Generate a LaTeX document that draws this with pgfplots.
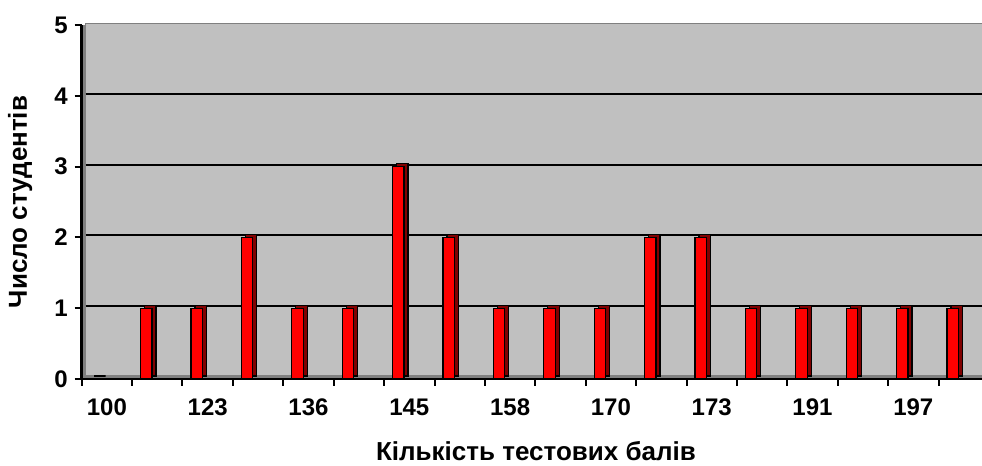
\documentclass[border=0pt]{standalone}
\usepackage{fontspec}
\setmainfont{Liberation Sans}
\usepackage{pgfplots}
\pgfplotsset{compat=1.18}
\definecolor{wall}{HTML}{C0C0C0}
\definecolor{wallside}{HTML}{808080}
\definecolor{barred}{HTML}{FF0000}
\definecolor{bardark}{HTML}{800000}
\begin{document}
\begin{tikzpicture}
\begin{axis}[
  at={(0,0)}, anchor=south west,
  scale only axis,
  width=450.15pt, height=177pt,
  xmin=-0.5, xmax=17.363,
  ymin=0, ymax=5,
  clip=false,
  axis lines=left,
  axis line style={-, line width=1.2pt, black},
  tick align=outside,
  tick style={line width=1pt, black},
  major tick length=3.5pt,
  xtick={-0.5,0.5,...,16.5},
  xticklabels={},
  extra x ticks={0,2,4,6,8,10,12,14,16},
  extra x tick labels={100,123,136,145,158,170,173,191,197},
  extra x tick style={major tick length=0pt, tick style={draw=none}},
  ytick={0,1,2,3,4,5},
  yticklabels={0,1,2,3,4,5},
  /pgf/number format/assume math mode=true,
  ticklabel style={font=\bfseries\fontsize{12}{14}\selectfont},
  xticklabel style={yshift=-6.5pt},
  xlabel={Кількість тестових балів},
  ylabel={Число студентів},
  label style={font=\bfseries\fontsize{13}{15}\selectfont},
  xlabel style={at={(axis description cs:0.5046,-0.229)}, anchor=base},
  ylabel style={at={(axis description cs:-0.0685,0.5)}, anchor=center},
  axis background/.style={fill=wallside},
]
\fill[wall, draw=wallside, line width=0.4pt] ([shift={(2pt,2pt)}]axis cs:-0.5,0) rectangle ([shift={(3pt,1pt)}]axis cs:17.363,5);
\draw[black, line width=1pt] ([shift={(2pt,1pt)}]axis cs:-0.5,1) -- ([shift={(3pt,1pt)}]axis cs:17.363,1);
\draw[black, line width=1pt] ([shift={(2pt,1pt)}]axis cs:-0.5,2) -- ([shift={(3pt,1pt)}]axis cs:17.363,2);
\draw[black, line width=1pt] ([shift={(2pt,1pt)}]axis cs:-0.5,3) -- ([shift={(3pt,1pt)}]axis cs:17.363,3);
\draw[black, line width=1pt] ([shift={(2pt,1pt)}]axis cs:-0.5,4) -- ([shift={(3pt,1pt)}]axis cs:17.363,4);
\addplot[ybar, bar width=5.65pt, bar shift=-3.5pt, yshift=1.5pt, fill=bardark, draw=black, line width=0.6pt]
  coordinates {(0,0) (1,1) (2,1) (3,2) (4,1) (5,1) (6,3) (7,2) (8,1) (9,1) (10,1) (11,2) (12,2) (13,1) (14,1) (15,1) (16,1) (17,1)};
\addplot[ybar, bar width=5.65pt, bar shift=-5.5pt, fill=barred, draw=black, line width=0.6pt]
  coordinates {(0,0) (1,1) (2,1) (3,2) (4,1) (5,1) (6,3) (7,2) (8,1) (9,1) (10,1) (11,2) (12,2) (13,1) (14,1) (15,1) (16,1) (17,1)};
\end{axis}
\pgfresetboundingbox
\useasboundingbox (-40.85pt,-43.5pt) rectangle (450.15pt,189.5pt);
\end{tikzpicture}
\end{document}
